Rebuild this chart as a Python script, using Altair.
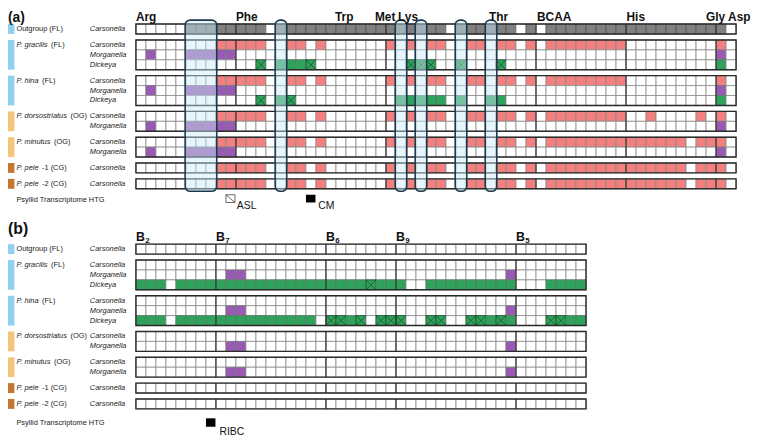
import altair as alt
import pandas as pd

# ------------------------------------------------------------------ data
species_italic = ["", "P. gracilis", "P. hina", "P. dorsostriatus", "P. minutus", "P. pele", "P. pele"]
species_suffix = ["Outgroup (FL)", "(FL)", "(FL)", "(OG)", "(OG)", "-1 (CG)", "-2 (CG)"]
habitat = ["FL", "FL", "FL", "OG", "OG", "CG", "CG"]
habitat_names = ["FL", "OG", "CG"]
habitat_colors = ["#8fd1ee", "#f5c57c", "#c8762f"]
symbionts = [["Carsonella"],
             ["Carsonella", "Morganella", "Dickeya"],
             ["Carsonella", "Morganella", "Dickeya"],
             ["Carsonella", "Morganella"],
             ["Carsonella", "Morganella"],
             ["Carsonella"],
             ["Carsonella"]]

# states: . absent, G outgroup gene, P Carsonella, M Morganella, D Dickeya, X Dickeya pseudogene
state_names = [".", "G", "P", "M", "D", "X"]
state_colors = ["#ffffff", "#808080", "#f47f7f", "#9b59b6", "#2fa35b", "#2fa35b"]
state_strokes = ["#8c8c8c", "#555555", "#8c8c8c", "#7a7a7a", "#5a7a64", "#1b4d2c"]

# panel (a): amino-acid pathway genes (60 columns)
aa_groups = ["Arg", "Phe", "Trp", "Met", "Lys", "Thr", "BCAA", "His", "Gly", "Asp"]
aa_label_col = [0, 10, 19.9, 23.9, 26.2, 35.3, 40.1, 49.05, 57.0, 59.2]
aa_separators = [10, 25, 40, 49, 58]
aa_highlight = [(5, 8), (14, 15), (26, 27), (28, 29), (32, 33), (35, 36)]
cars_fl = "........PP PPP..PP.P. .....P.P.P P..PP.PP.P .PPPPPPPP. ........P."
cars_do = "........PP PPP..PP.P. .....P.P.P P..PP.PP.P .PPPPPPPP. .P....P.P."
cars_cg = "........PP PPP..PP.P. .....P.P.P P..PP.PP.P .PPPPPPPPP PPPPP.PPP."
morg_a = ".M...MMMMM .......... .......... .......... .......... ........M."
aa_rows = [
    [".....GGGGG GGG.GGGGGG GGGGGGGGGG G.GGGGGG.G .GGGGGGGGG GGGGGGGGG."],
    [cars_fl, morg_a,
     ".......... ..X.DDDX.. .......XXX ..X...X... .......... ........D."],
    [cars_fl, morg_a,
     ".......... ..X.DX.... ......DDDD D.D..DD... .......... ........D."],
    [cars_do, morg_a],
    [cars_cg, morg_a],
    [cars_cg],
    [cars_cg],
]

# panel (b): B-vitamin pathway genes (45 columns)
b_subscripts = ["2", "7", "6", "9", "5"]
b_label_col = [0, 8, 19, 26, 38]
b_separators = [8, 19, 26, 38]
cars_b = ".......... .......... .......... .......... ....."
morg_b = ".........M M......... .......... .......M.. ....."
b_rows = [
    [cars_b],
    [cars_b, morg_b, "DDD.DDDDDD DDDDDDDDDD DDDXDDD..D DDDDDDDD.. .DDDD"],
    [cars_b, morg_b, "DDD.DDDDDD DDDDDDDD.X XDX.XXX..X X..XXDXD.. .XXDD"],
    [cars_b, morg_b],
    [cars_b, morg_b],
    [cars_b],
    [cars_b],
]

# ------------------------------------------------------------------ layout
W, H = 752, 432
PX, PY = 10.11, 10.1          # pixels per gene column / per row
X0 = -(137.3 - 8) / PX
Y0 = -(20 - 8) / PY
GAP = 0.6
PANEL_TOP = [0.0, 22.18]
FONT = "Liberation Sans"

HELV = {"P": 667, ".": 278, " ": 278, "g": 556, "r": 333, "a": 556, "c": 500, "i": 222,
        "l": 222, "s": 500, "h": 556, "n": 556, "d": 556, "o": 556, "t": 278, "u": 556,
        "m": 833, "e": 556}


def tw(s, size):
    return sum(HELV.get(ch, 556) for ch in s) * size / 1000.0


def px2c(px):
    return X0 + px / PX


def py2r(py):
    return Y0 + py / PY


def xe(field="c"):
    return alt.X(f"{field}:Q", scale=alt.Scale(domain=[X0, X0 + W / PX], nice=False, zero=False), axis=None)


def ye(field="y"):
    return alt.Y(f"{field}:Q", scale=alt.Scale(domain=[Y0, Y0 + H / PY], nice=False, zero=False, reverse=True), axis=None)


cells, blocks, seps, rowlab, splab, suflab, bars = [], [], [], [], [], [], []
panel_bottom = []
for p, (rows, separators) in enumerate([(aa_rows, aa_separators), (b_rows, b_separators)]):
    t = PANEL_TOP[p]
    for s, block in enumerate(rows):
        ncol = 0
        for r, pat in enumerate(block):
            pat = pat.replace(" ", "")
            ncol = len(pat)
            for c, st in enumerate(pat):
                cells.append(dict(c=c, c2=c + 1, y=t + r, y2=t + r + 1, state=st))
            rowlab.append(dict(c=px2c(82.7), y=t + r + 0.5, text=symbionts[s][r]))
        n = len(block)
        blocks.append(dict(c=0, c2=ncol, y=t, y2=t + n))
        for sc in separators:
            seps.append(dict(c=sc, y=t, y2=t + n))
        bars.append(dict(c=px2c(0), c2=px2c(6.5), y=t, y2=t + n, hab=habitat[s]))
        name_px = 8.5
        splab.append(dict(c=px2c(name_px), y=t + 0.5, text=species_italic[s]))
        off = name_px + (tw(species_italic[s], 7.5) + 2.5 if species_italic[s] else 0)
        suflab.append(dict(c=px2c(off), y=t + 0.5, text=species_suffix[s]))
        t += n + GAP
    panel_bottom.append(t - GAP)

cells = pd.DataFrame(cells)
xcells = cells[cells.state == "X"]
diag1 = xcells[["c", "c2", "y", "y2"]]
diag2 = diag1.rename(columns={"y": "y2", "y2": "y"})

hl = pd.DataFrame([dict(c=a - 0.08, c2=b + 0.08, y=-0.4, y2=panel_bottom[0] + 0.25) for a, b in aa_highlight])

grp = pd.DataFrame(dict(c=aa_label_col, y=[py2r(8.6)] * len(aa_groups), text=aa_groups))
bl = pd.DataFrame(dict(c=b_label_col, y=[py2r(232.5)] * 5, text=["B"] * 5))
bs = pd.DataFrame(dict(c=[v + 9.4 / PX for v in b_label_col], y=[py2r(235.0)] * 5, text=b_subscripts))
title_a = pd.DataFrame(dict(c=[px2c(0)], y=[py2r(9.6)], text=["(a)"]))
title_b = pd.DataFrame(dict(c=[px2c(0)], y=[py2r(225.5)], text=["(b)"]))
htg = pd.DataFrame(dict(c=[px2c(8.5), px2c(8.5)], y=[py2r(191), py2r(418)],
                        text=["Psyllid Transcriptome HTG", "Psyllid Transcriptome HTG"]))

# legend icons (one gene cell in size)
leg_top_a = panel_bottom[0] + 0.6
leg_top_b = panel_bottom[1] + 0.95
asl = pd.DataFrame([dict(c=9, c2=9.9, y=leg_top_a, y2=leg_top_a + 0.78)])
blk = pd.DataFrame([dict(c=17, c2=17.95, y=leg_top_a, y2=leg_top_a + 0.78),
                    dict(c=7, c2=7.95, y=leg_top_b, y2=leg_top_b + 0.85)])
legtxt = pd.DataFrame(dict(c=[px2c(231.3), px2c(313.7), px2c(213.7)],
                           y=[py2r(200), py2r(200), py2r(430.5)],
                           text=["ASL", "CM", "RIBC"]))

# ------------------------------------------------------------------ chart
cell_layer = alt.Chart(cells).mark_rect(strokeWidth=0.8).encode(
    x=xe(), x2="c2", y=ye(), y2="y2",
    color=alt.Color("state:N", scale=alt.Scale(domain=state_names, range=state_colors), legend=None),
    stroke=alt.Stroke("state:N", scale=alt.Scale(domain=state_names, range=state_strokes), legend=None))

d1 = alt.Chart(diag1).mark_rule(color="#1b4d2c", strokeWidth=0.8).encode(x=xe(), x2="c2", y=ye(), y2="y2")
d2 = alt.Chart(diag2).mark_rule(color="#1b4d2c", strokeWidth=0.8).encode(x=xe(), x2="c2", y=ye(), y2="y2")

sep_layer = alt.Chart(pd.DataFrame(seps)).mark_rule(color="#333333", strokeWidth=1.2).encode(
    x=xe(), y=ye(), y2="y2")
block_layer = alt.Chart(pd.DataFrame(blocks)).mark_rect(fillOpacity=0, stroke="#2b2b2b", strokeWidth=1.4).encode(
    x=xe(), x2="c2", y=ye(), y2="y2")
hl_layer = alt.Chart(hl).mark_rect(cornerRadius=5, fill="#c9e9f8", fillOpacity=0.45,
                                   stroke="#1c3a4c", strokeWidth=1.6).encode(
    x=xe(), x2="c2", y=ye(), y2="y2")

bar_layer = alt.Chart(pd.DataFrame(bars)).mark_rect().encode(
    x=xe(), x2="c2", y=ye(), y2="y2",
    fill=alt.Fill("hab:N", scale=alt.Scale(domain=habitat_names, range=habitat_colors), legend=None))


def txt(df, **kw):
    base = dict(align="left", font=FONT, color="#222222")
    base.update(kw)
    return alt.Chart(df).mark_text(**base).encode(x=xe(), y=ye(), text="text:N")


sp_layer = txt(pd.DataFrame(splab), baseline="middle", fontSize=7.5, fontStyle="italic")
suf_layer = txt(pd.DataFrame(suflab), baseline="middle", fontSize=7.5)
row_layer = txt(pd.DataFrame(rowlab), baseline="middle", fontSize=7.5, fontStyle="italic")
grp_layer = txt(grp, baseline="alphabetic", fontSize=12, fontWeight="bold", color="#111111")
bl_layer = txt(bl, baseline="alphabetic", fontSize=12.5, fontWeight="bold", color="#111111")
bs_layer = txt(bs, baseline="alphabetic", fontSize=8, fontWeight="bold", color="#111111")
ta_layer = txt(title_a, baseline="alphabetic", fontSize=14, fontWeight="bold", color="#111111")
tb_layer = txt(title_b, baseline="alphabetic", fontSize=16, fontWeight="bold", color="#111111")
htg_layer = txt(htg, baseline="middle", fontSize=7.5)
leg_text = txt(legtxt, baseline="alphabetic", fontSize=10.5, color="#111111")

asl_box = alt.Chart(asl).mark_rect(fill="white", stroke="#444444", strokeWidth=0.8).encode(
    x=xe(), x2="c2", y=ye(), y2="y2")
asl_diag = alt.Chart(asl).mark_rule(color="#444444", strokeWidth=0.8).encode(
    x=xe(), x2="c2", y=ye(), y2="y2")
blk_box = alt.Chart(blk).mark_rect(fill="black").encode(x=xe(), x2="c2", y=ye(), y2="y2")

chart = alt.layer(
    cell_layer, d1, d2, sep_layer, block_layer, hl_layer, bar_layer,
    sp_layer, suf_layer, row_layer, grp_layer, bl_layer, bs_layer, ta_layer, tb_layer,
    htg_layer, asl_box, asl_diag, blk_box, leg_text
).properties(
    width=W, height=H, padding=0,
    autosize=alt.AutoSizeParams(type="fit", contains="padding")
).configure_view(stroke=None)

chart.save("out.html", embed_options={"renderer": "svg", "actions": False})
